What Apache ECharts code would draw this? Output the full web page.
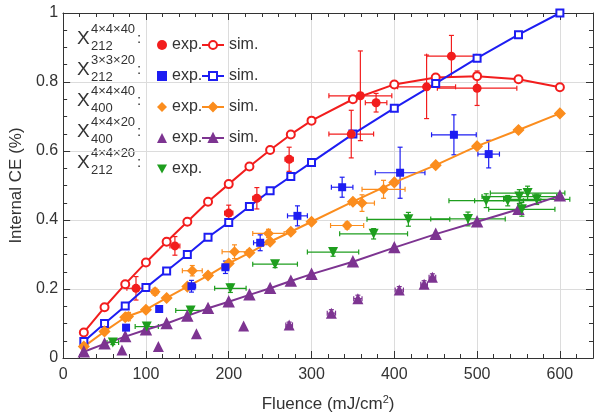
<!DOCTYPE html>
<html>
<head>
<meta charset="utf-8">
<script src="https://cdn.jsdelivr.net/npm/echarts@6/dist/echarts.min.js"></script>
<style>
html,body{margin:0;padding:0;background:#fff;}
#main{width:599px;height:420px;}
</style>
</head>
<body>
<div id="main"></div>
<script>
// simulated curves (same x for all four)
var simX = [25,50,75,100,125,150,175,200,225,250,275,300,350,400,450,500,550,600];
var redSim    = [0.074,0.147,0.214,0.277,0.337,0.395,0.453,0.504,0.555,0.603,0.648,0.688,0.750,0.793,0.813,0.817,0.808,0.785];
var blueSim   = [0.048,0.100,0.151,0.204,0.252,0.300,0.350,0.393,0.439,0.485,0.526,0.567,0.649,0.724,0.796,0.869,0.937,1.000];
var orangeSim = [0.033,0.077,0.118,0.140,0.174,0.207,0.239,0.274,0.305,0.337,0.366,0.395,0.453,0.509,0.559,0.614,0.661,0.709];
var purpleSim = [0.018,0.041,0.062,0.082,0.100,0.122,0.144,0.163,0.183,0.202,0.223,0.243,0.279,0.320,0.359,0.395,0.431,0.470];

// experiment points: [fluence, CE, x error, y error]
var redExp = [[88,0.202,11,0.034],[135,0.325,6,0.027],[200,0.420,5,0.023],[234,0.463,5,0.031],
  [273,0.576,5,0.035],[348,0.649,27,0.069],[359,0.760,38,0.130],[378,0.740,13,0.027],
  [439,0.786,35,0.092],[469,0.875,30,0.060],[500,0.782,48,0.050]];
var blueExp = [[76,0.088,0,0],[116,0.142,0,0],[155,0.208,5,0.017],[196,0.263,4,0.018],
  [238,0.334,8,0.023],[283,0.412,12,0.029],[337,0.495,13,0.029],[407,0.537,30,0.074],
  [472,0.647,27,0.058],[514,0.591,13,0.040]];
var orangeExp = [[79,0.120,3,0.012],[111,0.192,4,0.010],[156,0.253,12,0.015],[207,0.308,15,0.020],
  [248,0.361,19,0.012],[343,0.384,20,0.010],[361,0.449,15,0.024],[387,0.489,26,0.026]];
var purpleExp = [[71,0.023,0,0],[115,0.033,0,0],[161,0.070,0,0],[218,0.093,0,0],[273,0.096,4,0.008],
  [324,0.130,5,0.010],[356,0.172,5,0.010],[406,0.197,5,0.010],[436,0.214,4,0.010],[446,0.234,4,0.010]];
var greenExp = [[60,0.045,7,0.006],[101,0.091,14,0.008],[154,0.138,18,0.010],[202,0.202,19,0.012],
  [256,0.272,27,0.010],[326,0.307,31,0.012],[375,0.360,41,0.015],[417,0.402,50,0.020],
  [489,0.403,45,0.020],[511,0.456,45,0.020],[537,0.456,40,0.015],[551,0.468,45,0.020],
  [561,0.478,45,0.020],[572,0.460,40,0.015],[554,0.431,40,0.020]];

var supLabels = ['4×4×40','3×3×20','4×4×40','4×4×20','4×4×20'];
var subLabels = ['212','212','400','400','212'];

var RED = '#f21d1d', BLUE = '#1d1df2', ORANGE = '#fb8d1e', PURPLE = '#7d3491', GREEN = '#1e9e1e';
var FONT = 'Liberation Sans, Arial, sans-serif';
var TXT = '#333';

function pairs(ys) {
  return simX.map(function(x, i){ return [x, ys[i]]; });
}

function errRender(color) {
  return function(params, api) {
    var x = api.value(0), y = api.value(1), ex = api.value(2), ey = api.value(3);
    var st = {stroke: color, lineWidth: 1.2};
    var cap = 2.5;
    var ch = [];
    if (ex > 0) {
      var l = api.coord([x - ex, y]), r = api.coord([x + ex, y]);
      ch.push({type:'line', shape:{x1:l[0],y1:l[1],x2:r[0],y2:r[1]}, style:st});
      ch.push({type:'line', shape:{x1:l[0],y1:l[1]-cap,x2:l[0],y2:l[1]+cap}, style:st});
      ch.push({type:'line', shape:{x1:r[0],y1:r[1]-cap,x2:r[0],y2:r[1]+cap}, style:st});
    }
    if (ey > 0) {
      var t = api.coord([x, y + ey]), b = api.coord([x, y - ey]);
      ch.push({type:'line', shape:{x1:t[0],y1:t[1],x2:b[0],y2:b[1]}, style:st});
      ch.push({type:'line', shape:{x1:t[0]-cap,y1:t[1],x2:t[0]+cap,y2:t[1]}, style:st});
      ch.push({type:'line', shape:{x1:b[0]-cap,y1:b[1],x2:b[0]+cap,y2:b[1]}, style:st});
    }
    return {type:'group', children: ch};
  };
}

function errSeries(data, color) {
  return {type:'custom', renderItem: errRender(color), data: data, encode:{x:0, y:1}, z:3, silent:true};
}

function expSeries(name, data, color, symbol, size) {
  return {name:name, type:'scatter', data:data.map(function(d){ return [d[0], d[1]]; }),
    symbol:symbol, symbolSize:size, itemStyle:{color:color, opacity:1}, z:5};
}

function simSeries(name, ys, color, symbol, size) {
  return {name:name, type:'line', data:pairs(ys), symbol:symbol, symbolSize:size,
    lineStyle:{color:color, width:2}, itemStyle:{color:color, borderColor:color, borderWidth:1.5}, z:4};
}

var downTri = 'path://M0,0L10,0L5,9Z';

// legend row labels X_sub^sup :
var graphics = [];
for (var i = 0; i < 5; i++) {
  var ry = 40 + i * 31;
  graphics.push({type:'text', left:77, top:ry - 11, style:{text:'X', font:'19px ' + FONT, fill:TXT}});
  graphics.push({type:'text', left:91, top:ry - 17, style:{text:supLabels[i], font:'13px ' + FONT, fill:TXT}});
  graphics.push({type:'text', left:91, top:ry, style:{text:subLabels[i], font:'13px ' + FONT, fill:TXT}});
  graphics.push({type:'text', left:137, top:ry - 9, style:{text:':', font:'15px ' + FONT, fill:TXT}});
}

var axisLineStyle = {color:'#333', width:1};
function xAx(pos, interval, tickLen, main) {
  return {type:'value', min:0, max:640, interval:interval, position:pos,
    axisLine:{show:true, onZero:false, lineStyle:axisLineStyle},
    axisTick:{show:true, inside:true, length:tickLen, lineStyle:axisLineStyle},
    axisLabel:{show:main, fontSize:16, color:TXT, fontFamily:FONT, margin:9, showMaxLabel:false},
    splitLine:{show:main, lineStyle:{color:'#dcdcdc', width:1}},
    name: main ? '{a|Fluence (mJ/cm}{s|2}{a|)}' : '',
    nameLocation:'middle', nameGap:36,
    nameTextStyle:{rich:{a:{fontSize:17, color:TXT, fontFamily:FONT}, s:{fontSize:11, color:TXT, fontFamily:FONT, padding:[0,0,10,0]}}}
  };
}
function yAx(pos, main) {
  return {type:'value', min:0, max:1, interval:0.2, position:pos,
    axisLine:{show:true, onZero:false, lineStyle:axisLineStyle},
    axisTick:{show:true, inside:true, length:7, lineStyle:axisLineStyle},
    minorTick:{show:true, splitNumber:4, length:4, lineStyle:axisLineStyle},
    axisLabel:{show:main, fontSize:16, color:TXT, fontFamily:FONT, margin:5},
    splitLine:{show:main, lineStyle:{color:'#dcdcdc', width:1}},
    name: main ? 'Internal CE (%)' : '', nameLocation:'middle', nameGap:38,
    nameTextStyle:{fontSize:17, color:TXT, fontFamily:FONT}
  };
}

var chart = echarts.init(document.getElementById('main'));
var option = {
  animation: false,
  backgroundColor: '#fff',
  grid: {left:61, right:6, top:13, bottom:62},
  xAxis: [xAx('bottom', 100, 7, true), xAx('bottom', 20, 4, false), xAx('top', 100, 7, false), xAx('top', 20, 4, false)],
  yAxis: [yAx('left', true), yAx('right', false)],
  legend: [
    {data:['r_exp','b_exp','o_exp','p_exp','g_exp'], orient:'vertical', left:152, top:32,
     itemWidth:10, itemHeight:10, itemGap:15, selectedMode:false,
     formatter:function(){ return 'exp.'; },
     textStyle:{fontSize:16, color:TXT, fontFamily:FONT, lineHeight:16}},
    {data:['r_sim','b_sim','o_sim','p_sim'], orient:'vertical', left:196, top:32,
     itemWidth:22, itemHeight:10, itemGap:15, selectedMode:false,
     formatter:function(){ return 'sim.'; },
     textStyle:{fontSize:16, color:TXT, fontFamily:FONT, lineHeight:16}}
  ],
  graphic: graphics,
  series: [
    simSeries('r_sim', redSim, RED, 'emptyCircle', 8),
    simSeries('b_sim', blueSim, BLUE, 'emptyRect', 7),
    simSeries('o_sim', orangeSim, ORANGE, 'diamond', 10),
    simSeries('p_sim', purpleSim, PURPLE, 'triangle', 10),
    errSeries(redExp, RED), errSeries(blueExp, BLUE), errSeries(orangeExp, ORANGE),
    errSeries(purpleExp, PURPLE), errSeries(greenExp, GREEN),
    expSeries('r_exp', redExp, RED, 'circle', 9),
    expSeries('b_exp', blueExp, BLUE, 'rect', 8),
    expSeries('o_exp', orangeExp, ORANGE, 'diamond', 11),
    expSeries('p_exp', purpleExp, PURPLE, 'triangle', 11),
    expSeries('g_exp', greenExp, GREEN, downTri, 10)
  ]
};
chart.setOption(option);
</script>
</body>
</html>
